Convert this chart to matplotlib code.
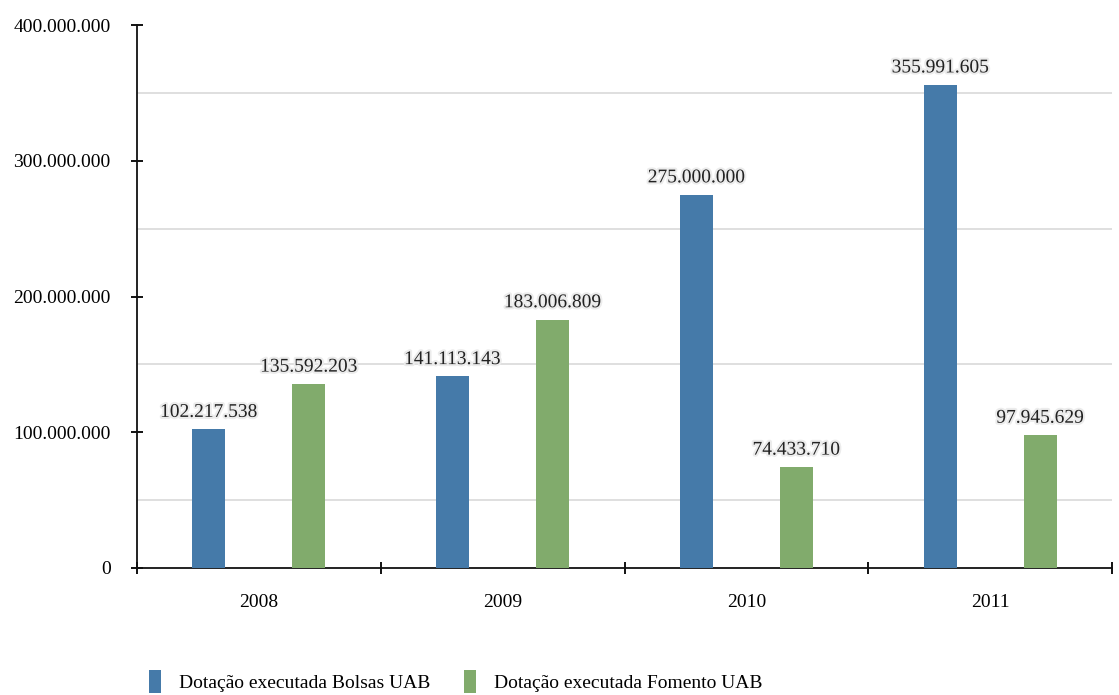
import numpy as np
import matplotlib.pyplot as plt
import matplotlib.patheffects as pe
from matplotlib.ticker import MultipleLocator, FuncFormatter

years = ["2008", "2009", "2010", "2011"]
bolsas = [102217538, 141113143, 275000000, 355991605]
fomento = [135592203, 183006809, 74433710, 97945629]
series_names = ["Dotação executada Bolsas UAB", "Dotação executada Fomento UAB"]

blue = "#457AA9"
green = "#81AB6C"

plt.rcParams["font.family"] = ["Liberation Serif", "DejaVu Serif"]


def br(v):
    return f"{int(v):,}".replace(",", ".")


fig = plt.figure(figsize=(11.19, 6.95), dpi=100)
ax = fig.add_axes([137 / 1119, 1 - 568 / 695, (1112 - 137) / 1119, (568 - 25) / 695])

x = np.arange(len(years))
offset = 0.205
width = 0.135

b1 = ax.bar(x - offset, bolsas, width, color=blue, zorder=3, label=series_names[0])
b2 = ax.bar(x + offset, fomento, width, color=green, zorder=3, label=series_names[1])

# value labels with a soft grey halo
halo = [pe.withStroke(linewidth=3, foreground="#ececec")]
for bars, vals in ((b1, bolsas), (b2, fomento)):
    for rect, v in zip(bars, vals):
        ax.annotate(br(v), (rect.get_x() + rect.get_width() / 2, v),
                    xytext=(0, 6), textcoords="offset points",
                    ha="center", va="bottom", fontsize=14, color="#222222",
                    path_effects=halo, zorder=4)

ax.set_xlim(-0.5, 3.5)
ax.set_ylim(0, 400000000)

# gridlines sit halfway between the labelled ticks
ax.yaxis.set_major_locator(MultipleLocator(100000000))
ax.yaxis.set_minor_locator(MultipleLocator(50000000))
ax.yaxis.set_major_formatter(FuncFormatter(lambda v, p: br(v)))
for yv in (50e6, 150e6, 250e6, 350e6):
    ax.axhline(yv, color="#dcdcdc", lw=1.3, zorder=1)

ax.set_xticks(x)
ax.set_xticklabels(years)
ax.set_xticks(np.arange(-0.5, 4.0, 1.0), minor=True)
ax.tick_params(axis="x", which="major", length=0, pad=19, labelsize=14)
ax.tick_params(axis="x", which="minor", direction="inout", length=8, width=1.3)
ax.tick_params(axis="y", which="major", direction="inout", length=8, width=1.3,
               pad=15, labelsize=14)
ax.tick_params(axis="y", which="minor", length=0)

for side in ("top", "right"):
    ax.spines[side].set_visible(False)
for side in ("left", "bottom"):
    ax.spines[side].set_linewidth(1.3)
    ax.spines[side].set_color("#111111")

fig.legend(handles=[b1, b2], labels=series_names, loc="lower left",
           bbox_to_anchor=(131 / 1119, -0.022), ncol=2, frameon=False,
           fontsize=14, handlelength=0.62, handleheight=1.4,
           handletextpad=0.93, columnspacing=1.75)

fig.savefig("out.png", dpi=100)
